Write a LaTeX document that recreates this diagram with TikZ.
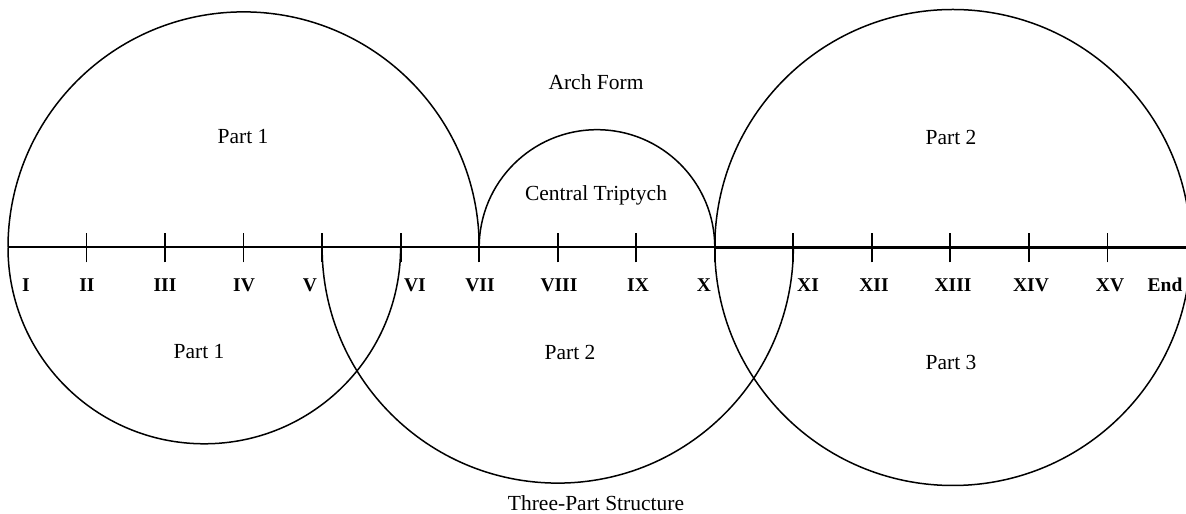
\documentclass[tikz,border=0pt]{standalone}
\usepackage{fontspec}
\setmainfont{Liberation Serif}
\begin{document}
\begin{tikzpicture}[x=1pt,y=1pt,
  axis/.style={line width=2pt},
  axisheavy/.style={line width=3.3pt},
  tick/.style={line width=1.8pt},
  arcline/.style={line width=1.5pt},
  numeral/.style={font=\fontsize{19.5}{21}\selectfont\bfseries, inner sep=0pt},
  caption/.style={font=\fontsize{21.5}{24}\selectfont, inner sep=0pt}]
\useasboundingbox (0,0) rectangle (1186,514);
\clip (0,0) rectangle (1186,514);
% timeline stations, evenly spaced
\foreach \i in {0,...,15}
  \coordinate (t\i) at ({8+\i*78.53},266.5);
% main timeline, heavier from X onward
\draw[axis] (t0) -- (t15);
\draw[axisheavy] (t9) -- (t15);
\foreach \i in {1,...,14}
  \draw[tick] ([yshift=-15pt]t\i) -- ([yshift=14.5pt]t\i);
% station numerals
\node[numeral] (nI)    at (26,229)   {I};
\node[numeral] (nII)   at (87,229)   {II};
\node[numeral] (nIII)  at (165,229)  {III};
\node[numeral] (nIV)   at (244,229)  {IV};
\node[numeral] (nV)    at (310,229)  {V};
\node[numeral] (nVI)   at (415,229)  {VI};
\node[numeral] (nVII)  at (480,229)  {VII};
\node[numeral] (nVIII) at (559,229)  {VIII};
\node[numeral] (nIX)   at (638,229)  {IX};
\node[numeral] (nX)    at (704,229)  {X};
\node[numeral] (nXI)   at (808,229)  {XI};
\node[numeral] (nXII)  at (874,229)  {XII};
\node[numeral] (nXIII) at (953,229)  {XIII};
\node[numeral] (nXIV)  at (1031,229) {XIV};
\node[numeral] (nXV)   at (1110,229) {XV};
\node[numeral] (nEnd)  at (1165,229) {End};
% arch form (above the line)
\draw[arcline] (t0) arc[start angle=180, end angle=0, radius=235.6];
\draw[arcline] (t6) arc[start angle=180, end angle=0, radius=117.8];
% right circle: Part 2 above, Part 3 below
\draw[arcline] (t9) arc[start angle=180, delta angle=360, radius=238];
% three-part structure (below the line)
\draw[arcline] (t0) arc[start angle=180, end angle=360, radius=196.3];
\draw[arcline] (t4) arc[start angle=180, end angle=360, radius=235.6];
% captions
\node[caption] (arch)    at (596,432) {Arch Form};
\node[caption] (upA)     at (243,377) {Part 1};
\node[caption] (central) at (596,319) {Central Triptych};
\node[caption] (upB)     at (951,377) {Part 2};
\node[caption] (lowA)    at (199,162) {Part 1};
\node[caption] (lowB)    at (570,162) {Part 2};
\node[caption] (lowC)    at (951,152) {Part 3};
\node[caption] (three)   at (596,11)  {Three-Part Structure};
\end{tikzpicture}
\end{document}
